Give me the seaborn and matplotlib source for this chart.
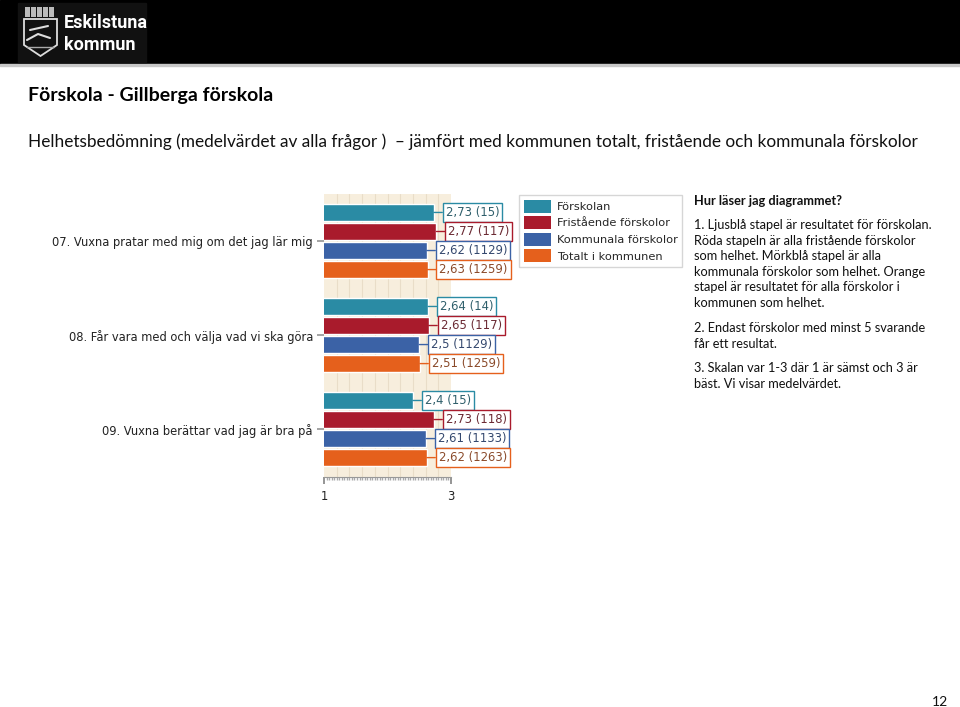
import numpy as np
import pandas as pd
import seaborn as sns
import matplotlib.pyplot as plt
from matplotlib.patches import Rectangle, Polygon, Patch
from matplotlib.ticker import FixedLocator, MultipleLocator

sns.set_theme(style="white")
plt.rcParams['font.family'] = ['DejaVu Sans']

# data
questions = ["07. Vuxna pratar med mig om det jag lär mig",
             "08. Får vara med och välja vad vi ska göra",
             "09. Vuxna berättar vad jag är bra på"]
groups = ["Förskolan", "Fristående förskolor", "Kommunala förskolor", "Totalt i kommunen"]
forskolan = [2.73, 2.64, 2.40]
fristaende = [2.77, 2.65, 2.73]
kommunala = [2.62, 2.50, 2.61]
totalt = [2.63, 2.51, 2.62]
n_forskolan = [15, 14, 15]
n_fristaende = [117, 117, 118]
n_kommunala = [1129, 1129, 1133]
n_totalt = [1259, 1259, 1263]
colors = ["#2A8BA4", "#A91B2C", "#3B62A6", "#E5601C"]
text_colors = ["#2f5f6b", "#6b2a33", "#34486e", "#8a4a2a"]

rows = []
for g, vals, ns in zip(groups, [forskolan, fristaende, kommunala, totalt],
                       [n_forskolan, n_fristaende, n_kommunala, n_totalt]):
    for q, v, n in zip(questions, vals, ns):
        rows.append({"fraga": q, "grupp": g, "varde": v, "n": n})
df = pd.DataFrame(rows)

W, H = 960, 707
fig = plt.figure(figsize=(W / 100, H / 100), dpi=100)

# page layer in pixel coordinates
page = fig.add_axes([0, 0, 1, 1], zorder=0)
page.set_xlim(0, W)
page.set_ylim(H, 0)
page.axis("off")

page.add_patch(Rectangle((0, 0), W, 64, color="black"))
page.add_patch(Rectangle((0, 64), W, 2, color="#c8c8c8"))
page.add_patch(Rectangle((18, 3), 128, 59, color="#111111"))
# shield
page.add_patch(Polygon([(24, 19), (57, 19), (57, 45), (40.5, 56), (24, 45)],
                       closed=True, fill=False, ec="#dddddd", lw=1.3))
for cx in [25, 31, 37, 43, 49]:
    page.add_patch(Rectangle((cx, 7), 5, 10, fc="#bbbbbb", ec="none"))
page.plot([27, 38, 50], [40, 34, 38], color="#dddddd", lw=1.5)
page.plot([30, 48], [30, 26], color="#dddddd", lw=1.5)
page.plot([27, 54], [47, 47], color="#aaaaaa", lw=1)
page.text(64, 23, "Eskilstuna", color="white", fontsize=13, fontweight="bold",
          family="Roboto", va="center", ha="left", fontstretch="condensed")
page.text(64, 45, "kommun", color="white", fontsize=13, fontweight="bold",
          family="Roboto", va="center", ha="left", fontstretch="condensed")

page.text(28, 95, "Förskola - Gillberga förskola", fontsize=14.0, fontweight="bold",
          family="Lato", va="center", ha="left", color="black")
page.text(28, 142, "Helhetsbedömning (medelvärdet av alla frågor )  – jämfört med kommunen totalt, fristående och kommunala förskolor",
          fontsize=12.4, family="Lato", va="center", ha="left", color="#111111")

page.text(694, 201, "Hur läser jag diagrammet?", fontsize=9.2, fontweight="bold",
          family="Lato", va="center", ha="left", color="#111111")
paras = [(225, ["1. Ljusblå stapel är resultatet för förskolan.",
                "Röda stapeln är alla fristående förskolor",
                "som helhet. Mörkblå stapel är alla",
                "kommunala förskolor som helhet. Orange",
                "stapel är resultatet för alla förskolor i",
                "kommunen som helhet."]),
         (328, ["2. Endast förskolor med minst 5 svarande",
                "får ett resultat."]),
         (368.5, ["3. Skalan var 1-3 där 1 är sämst och 3 är",
                  "bäst. Vi visar medelvärdet."])]
for y0, lines in paras:
    for i, line in enumerate(lines):
        page.text(694, y0 + i * 15.6, line, fontsize=9.2, family="Lato",
                  va="center", ha="left", color="#111111")
page.text(940, 702, "12", fontsize=10, family="Lato", va="center", ha="center", color="#111111")

# chart
left, right, top, bottom = 324, 451, 194, 477
ax = fig.add_axes([left / W, 1 - bottom / H, (right - left) / W, (bottom - top) / H], zorder=2)
ax.set_facecolor("#F7EEDD")
sns.barplot(data=df, y="fraga", x="varde", hue="grupp", hue_order=groups,
            order=questions, palette=colors, orient="h", width=0.81, gap=0.07,
            saturation=1, legend=False, ax=ax)
ax.set_xlim(1, 3)
ax.set_ylim(2.51, -0.5)
ax.xaxis.set_major_locator(FixedLocator([1, 3]))
ax.xaxis.set_minor_locator(MultipleLocator(0.04))
ax.grid(False)
for gx in np.arange(1.2, 3.0, 0.2):
    ax.axvline(gx, color="#E9DDC8", lw=0.8, zorder=0)
ax.set_axisbelow(True)
ax.set_xlabel("")
ax.set_ylabel("")
for s in ["top", "right", "left"]:
    ax.spines[s].set_visible(False)
ax.spines["bottom"].set_color("#999999")
ax.spines["bottom"].set_linewidth(0.8)
ax.tick_params(axis="x", which="major", bottom=True, length=5, color="#888888",
               labelsize=8.3, labelcolor="#222222", pad=4)
ax.tick_params(axis="x", which="minor", bottom=True, length=2, color="#aaaaaa")
ax.tick_params(axis="y", left=True, length=5, color="#999999", labelsize=8.3,
               labelcolor="#222222", pad=3)

for cont, col, tcol, ns in zip(ax.containers, colors, text_colors,
                               [n_forskolan, n_fristaende, n_kommunala, n_totalt]):
    for bar, n in zip(cont, ns):
        v = bar.get_width()
        yc = bar.get_y() + bar.get_height() / 2
        lab = f"{v:g}".replace(".", ",") + f" ({n})"
        ax.annotate(lab, xy=(v, yc), xytext=(8.5, 0), textcoords="offset points",
                    ha="left", va="center", fontsize=8.4, color=tcol,
                    annotation_clip=False,
                    bbox=dict(boxstyle="square,pad=0.25", fc="white", ec=col, lw=1),
                    arrowprops=dict(arrowstyle="-", color=col, lw=1,
                                    shrinkA=0, shrinkB=0))

handles = [Patch(facecolor=c, edgecolor="none") for c in colors]
fig.legend(handles, groups, loc="upper left", bbox_to_anchor=(519 / W, 1 - 195 / H),
           frameon=True, fancybox=False, edgecolor="#cccccc", fontsize=8.2,
           handlelength=2.4, handleheight=1.4, handletextpad=0.5,
           labelspacing=0.3, borderpad=0.4, borderaxespad=0)

fig.savefig("out.png", dpi=100)
